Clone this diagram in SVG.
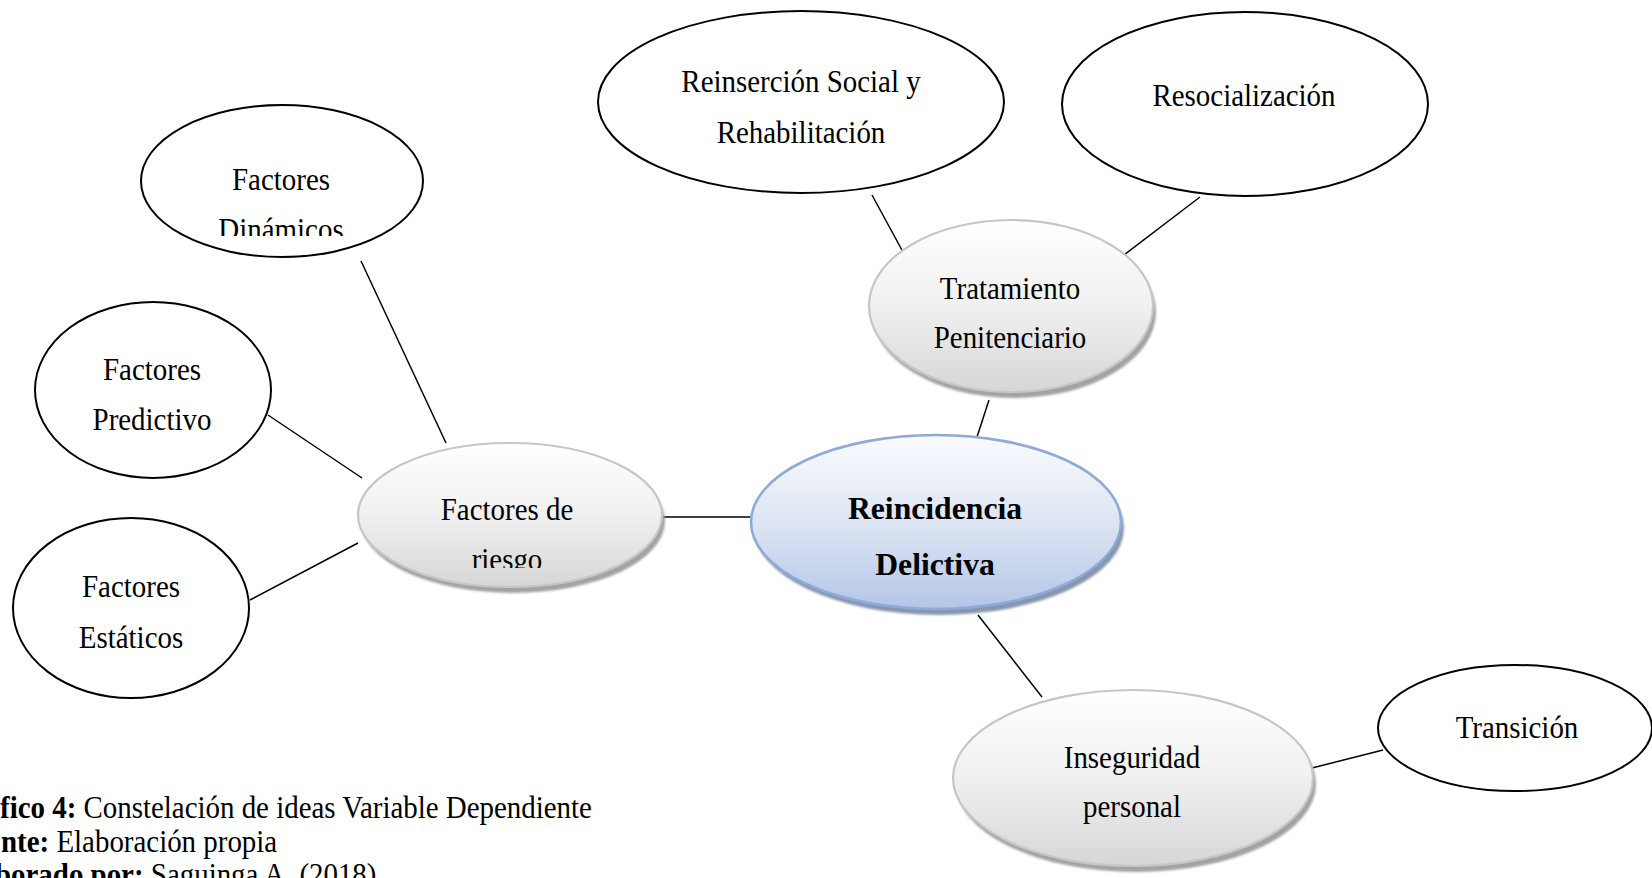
<svg xmlns="http://www.w3.org/2000/svg" width="1652" height="878" viewBox="0 0 1652 878">
<style>
.plain{fill:#ffffff;stroke:#000000;stroke-width:2}
.gray{fill:url(#gGray);stroke:#c6c6c6;stroke-width:2.2}
.grayShadow{fill:#a3a3a3}
.blue{fill:url(#gBlue);stroke:#8eaadb;stroke-width:2.6}
.blueShadow{fill:#8796ad}
.lbl{font-family:"Liberation Serif","Times New Roman",serif;font-size:32.5px;fill:#000000;text-anchor:middle}
.bold{font-weight:bold}
.cap{font-family:"Liberation Serif","Times New Roman",serif;font-size:32.5px;fill:#000000}
.conn line{stroke:#000000;stroke-width:1.5}
</style>
<defs>
<linearGradient id="gGray" x1="0" y1="0" x2="0" y2="1">
<stop offset="0" stop-color="#ffffff"/>
<stop offset="0.5" stop-color="#f0f0f0"/>
<stop offset="1" stop-color="#d6d6d6"/>
</linearGradient>
<linearGradient id="gBlue" x1="0" y1="0" x2="0" y2="1">
<stop offset="0" stop-color="#fafbfe"/>
<stop offset="0.5" stop-color="#dde5f3"/>
<stop offset="1" stop-color="#b3c6e7"/>
</linearGradient>
<filter id="soft" x="-10%" y="-10%" width="120%" height="130%">
<feGaussianBlur stdDeviation="1.2"/>
</filter>
<clipPath id="clipDin"><rect x="130" y="100" width="300" height="136"/></clipPath>
<clipPath id="clipRie"><rect x="350" y="440" width="320" height="128"/></clipPath>
</defs>
<rect width="1652" height="878" fill="#ffffff"/>

<g id="connectors" class="conn">
<line x1="361" y1="261" x2="446" y2="443"/>
<line x1="268" y1="415" x2="362" y2="478"/>
<line x1="250" y1="600" x2="358" y2="543"/>
<line x1="660" y1="517" x2="751" y2="517"/>
<line x1="989" y1="400" x2="977" y2="437"/>
<line x1="872" y1="195" x2="903" y2="252"/>
<line x1="1200" y1="197" x2="1120" y2="258"/>
<line x1="978" y1="615" x2="1042" y2="697"/>
<line x1="1312" y1="768" x2="1383" y2="750"/>
</g>

<g id="n-dinamicos">
<ellipse class="plain" cx="282" cy="181" rx="141" ry="76"/>
<g clip-path="url(#clipDin)">
<text class="lbl" transform="translate(281,190) scale(0.89,1)">Factores</text>
<text class="lbl" transform="translate(281,240) scale(0.89,1)">Dinámicos</text>
</g>
</g>

<g id="n-predictivo">
<ellipse class="plain" cx="153" cy="390" rx="118" ry="88"/>
<text class="lbl" transform="translate(152,380) scale(0.89,1)">Factores</text>
<text class="lbl" transform="translate(152,430) scale(0.89,1)">Predictivo</text>
</g>

<g id="n-estaticos">
<ellipse class="plain" cx="131" cy="608" rx="118" ry="90"/>
<text class="lbl" transform="translate(131,597) scale(0.89,1)">Factores</text>
<text class="lbl" transform="translate(131,648) scale(0.89,1)">Estáticos</text>
</g>

<g id="n-riesgo">
<ellipse class="grayShadow" cx="513" cy="521" rx="152" ry="72" filter="url(#soft)"/>
<ellipse class="gray" cx="510" cy="515" rx="152" ry="72"/>
<g clip-path="url(#clipRie)">
<text class="lbl" transform="translate(507,520) scale(0.89,1)">Factores de</text>
<text class="lbl" transform="translate(507,570) scale(0.89,1)">riesgo</text>
</g>
</g>

<g id="n-reincidencia">
<ellipse class="blueShadow" cx="939" cy="528" rx="185" ry="87" filter="url(#soft)"/>
<ellipse class="blue" cx="936" cy="522" rx="185" ry="87"/>
<text class="lbl bold" transform="translate(935,519) scale(0.975,1)">Reincidencia</text>
<text class="lbl bold" transform="translate(935,575) scale(0.975,1)">Delictiva</text>
</g>

<g id="n-tratamiento">
<ellipse class="grayShadow" cx="1014" cy="312" rx="142" ry="86" filter="url(#soft)"/>
<ellipse class="gray" cx="1011" cy="306" rx="142" ry="86"/>
<text class="lbl" transform="translate(1010,299) scale(0.89,1)">Tratamiento</text>
<text class="lbl" transform="translate(1010,348) scale(0.89,1)">Penitenciario</text>
</g>

<g id="n-reinsercion">
<ellipse class="plain" cx="801" cy="102" rx="203" ry="91"/>
<text class="lbl" transform="translate(801,92) scale(0.89,1)">Reinserción Social y</text>
<text class="lbl" transform="translate(801,143) scale(0.89,1)">Rehabilitación</text>
</g>

<g id="n-resocializacion">
<ellipse class="plain" cx="1245" cy="104" rx="183" ry="92"/>
<text class="lbl" transform="translate(1244,106) scale(0.89,1)">Resocialización</text>
</g>

<g id="n-inseguridad">
<ellipse class="grayShadow" cx="1136" cy="784" rx="180" ry="88" filter="url(#soft)"/>
<ellipse class="gray" cx="1133" cy="778" rx="180" ry="88"/>
<text class="lbl" transform="translate(1132,768) scale(0.89,1)">Inseguridad</text>
<text class="lbl" transform="translate(1132,817) scale(0.89,1)">personal</text>
</g>

<g id="n-transicion">
<ellipse class="plain" cx="1515" cy="728" rx="137" ry="63"/>
<text class="lbl" transform="translate(1517,738) scale(0.89,1)">Transición</text>
</g>

<g id="caption">
<text class="cap" transform="translate(0,818) scale(0.89,1)"><tspan font-weight="bold">fico 4:</tspan> Constelación de ideas Variable Dependiente</text>
<text class="cap" transform="translate(1,852) scale(0.89,1)"><tspan font-weight="bold">nte:</tspan> Elaboración propia</text>
<text class="cap" transform="translate(-5,885) scale(0.89,1)"><tspan font-weight="bold">borado por:</tspan> Saguinga A. (2018)</text>
</g>
</svg>
